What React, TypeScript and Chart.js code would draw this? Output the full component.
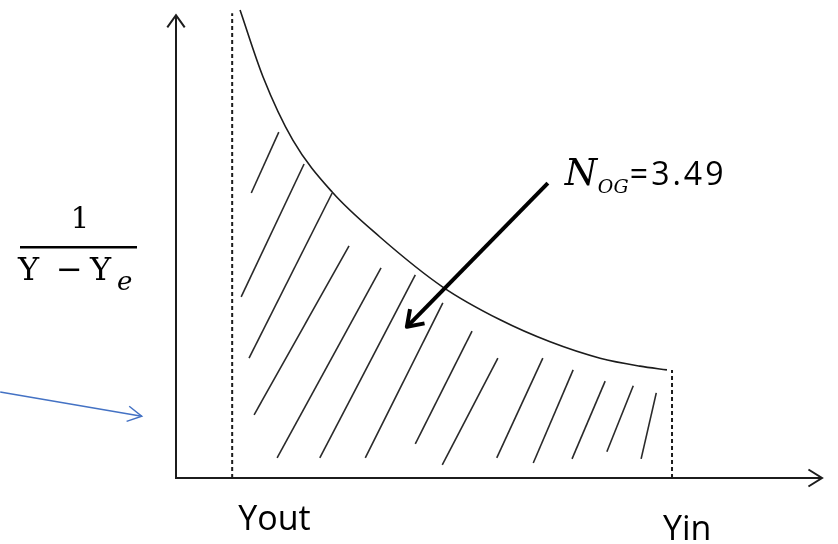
import React, { useEffect, useRef } from "react";
import { Chart, registerables } from "chart.js";

Chart.register(...registerables);

// Axis ranges (arbitrary units of Y and 1/(Y - Ye))
const X_MAX = 11.5;
const Y_MAX = 10;
const Y_AXIS_TIP = 9.89;

// Limits of integration
const YOUT = 1.0;
const YIN = 8.83;
const YOUT_LINE_TOP = 9.93;
const YIN_LINE_TOP = 2.31;

// Curve 1/(Y - Ye) versus Y
const CURVE_X = [1.14, 1.55, 2.08, 2.78, 3.63, 4.75, 5.77, 6.66, 7.55, 8.26, 8.74];
const CURVE_Y = [10.0, 8.57, 7.22, 6.11, 5.15, 4.08, 3.38, 2.91, 2.56, 2.39, 2.31];

// Hatch strokes (upper end, lower end)
const HATCH_X1 = [1.83, 2.28, 2.78, 3.08, 3.65, 4.26, 4.75, 5.27, 5.73, 6.53, 7.07, 7.64, 8.14, 8.55];
const HATCH_Y1 = [7.39, 6.71, 6.09, 4.96, 4.49, 4.34, 3.74, 3.14, 2.56, 2.56, 2.31, 2.07, 1.97, 1.82];
const HATCH_X2 = [1.34, 1.16, 1.3, 1.39, 1.8, 2.56, 3.37, 4.26, 4.74, 5.71, 6.36, 7.05, 7.67, 8.28];
const HATCH_Y2 = [6.09, 3.87, 2.56, 1.35, 0.43, 0.43, 0.43, 0.73, 0.28, 0.43, 0.32, 0.41, 0.56, 0.41];

// Annotation arrow for N_OG
const NOG_FROM = [6.62, 6.3];
const NOG_TO = [4.11, 3.23];
const NOG_VALUE = "=3.49";

// Blue pointer arrow at left
const BLUE_FROM = [-3.13, 1.84];
const BLUE_TO = [-0.61, 1.32];

const X_LABELS = ["Yout", "Yin"];

const INK = "#1c1c1c";

function chevron(ctx: CanvasRenderingContext2D, fx: number, fy: number, tx: number, ty: number, len: number, spread: number) {
  const ang = Math.atan2(fy - ty, fx - tx);
  ctx.beginPath();
  ctx.moveTo(tx + len * Math.cos(ang + spread), ty + len * Math.sin(ang + spread));
  ctx.lineTo(tx, ty);
  ctx.lineTo(tx + len * Math.cos(ang - spread), ty + len * Math.sin(ang - spread));
  ctx.stroke();
}

function seg(ctx: CanvasRenderingContext2D, a: number, b: number, c: number, d: number) {
  ctx.beginPath();
  ctx.moveTo(a, b);
  ctx.lineTo(c, d);
  ctx.stroke();
}

const diagramPlugin = {
  id: "diagram",
  afterDatasetsDraw(chart: any) {
    const { ctx, scales, chartArea } = chart;
    const X = (v: number) => scales.x.getPixelForValue(v);
    const Y = (v: number) => scales.y.getPixelForValue(v);
    ctx.save();
    ctx.lineCap = "butt";
    ctx.lineJoin = "miter";

    // axes
    ctx.strokeStyle = INK;
    ctx.lineWidth = 2;
    seg(ctx, X(0), Y(0) + 1, X(0), Y(Y_AXIS_TIP));
    chevron(ctx, X(0), Y(0), X(0), Y(Y_AXIS_TIP), 15, 0.62);
    seg(ctx, X(0), Y(0), X(X_MAX), Y(0));
    chevron(ctx, X(0), Y(0), X(X_MAX), Y(0), 16, 0.56);

    // N_OG arrow
    ctx.lineWidth = 4;
    ctx.strokeStyle = "#000";
    seg(ctx, X(NOG_FROM[0]), Y(NOG_FROM[1]), X(NOG_TO[0]), Y(NOG_TO[1]));
    ctx.lineJoin = "round";
    chevron(ctx, X(NOG_FROM[0]), Y(NOG_FROM[1]), X(NOG_TO[0]), Y(NOG_TO[1]), 18, 0.6);

    // blue arrow
    ctx.strokeStyle = "#4472C4";
    ctx.lineWidth = 1.5;
    ctx.lineJoin = "miter";
    seg(ctx, X(BLUE_FROM[0]), Y(BLUE_FROM[1]), X(BLUE_TO[0]), Y(BLUE_TO[1]));
    chevron(ctx, X(BLUE_FROM[0]), Y(BLUE_FROM[1]), X(BLUE_TO[0]), Y(BLUE_TO[1]), 16, 0.5);

    // texts
    ctx.fillStyle = "#000";
    ctx.textBaseline = "alphabetic";
    ctx.textAlign = "left";
    ctx.font = '34px "Open Sans"';
    ctx.fillText(X_LABELS[0], X(YOUT) + 6, chartArea.bottom + 52);
    ctx.fillText(X_LABELS[1], X(YIN) - 9, chartArea.bottom + 62);

    // N_OG label
    const nx = X(NOG_FROM[0]) + 17;
    const ny = Y(NOG_FROM[1]) + 2;
    ctx.font = 'italic 37px "DejaVu Serif"';
    ctx.fillText("N", nx, ny);
    ctx.font = 'italic 19px "DejaVu Serif"';
    ctx.fillText("OG", nx + 33, ny + 8);
    ctx.font = '32px "Open Sans"';
    (ctx as any).letterSpacing = "3px";
    ctx.fillText(NOG_VALUE, nx + 65, ny);
    (ctx as any).letterSpacing = "0px";

    // y label fraction 1/(Υ − Υe)
    const L = chartArea.left;
    ctx.font = '29px "DejaVu Serif"';
    ctx.textAlign = "center";
    ctx.fillText("1", L - 96, 228);
    ctx.fillRect(L - 156, 246, 117, 2.5);
    ctx.textAlign = "left";
    ctx.font = '32px "DejaVu Serif"';
    ctx.fillText("\u03A5", L - 158, 280);
    ctx.fillText("\u2212", L - 120, 280);
    ctx.fillText("\u03A5", L - 86, 280);
    ctx.font = 'italic 26px "DejaVu Serif"';
    ctx.fillText("e", L - 59, 290);

    ctx.restore();
  },
};

export default function App() {
  const ref = useRef<HTMLCanvasElement>(null);
  useEffect(() => {
    if (!ref.current) return;
    const line = (xs: number[], ys: number[]) => xs.map((v, i) => ({ x: v, y: ys[i] }));
    const datasets: any[] = [
      {
        data: line(CURVE_X, CURVE_Y),
        borderColor: INK,
        borderWidth: 1.6,
        cubicInterpolationMode: "monotone",
      },
      {
        data: line([YOUT, YOUT], [0, YOUT_LINE_TOP]),
        borderColor: INK,
        borderWidth: 2,
        borderDash: [4, 3],
      },
      {
        data: line([YIN, YIN], [0, YIN_LINE_TOP]),
        borderColor: INK,
        borderWidth: 2,
        borderDash: [4, 3],
      },
    ];
    HATCH_X1.forEach((_, i) => {
      datasets.push({
        data: line([HATCH_X2[i], HATCH_X1[i]], [HATCH_Y2[i], HATCH_Y1[i]]),
        borderColor: "#2a2a2a",
        borderWidth: 1.6,
      });
    });
    datasets.forEach((d) => {
      d.showLine = true;
      d.pointRadius = 0;
      d.fill = false;
      d.clip = false;
    });
    const chart = new Chart(ref.current, {
      type: "scatter",
      data: { datasets },
      options: {
        animation: false,
        responsive: false,
        devicePixelRatio: 1,
        events: [],
        layout: { padding: { left: 176, right: 16, top: 10, bottom: 66 } },
        plugins: { legend: { display: false }, tooltip: { enabled: false } },
        scales: {
          x: { type: "linear", min: 0, max: X_MAX, display: false },
          y: { type: "linear", min: 0, max: Y_MAX, display: false },
        },
      },
      plugins: [diagramPlugin],
    } as any);
    return () => chart.destroy();
  }, []);
  return (
    <div style={{ position: "absolute", left: 0, top: 0, width: 838, height: 544, background: "#fff" }}>
      <canvas ref={ref} width={838} height={544} style={{ display: "block" }} />
    </div>
  );
}
